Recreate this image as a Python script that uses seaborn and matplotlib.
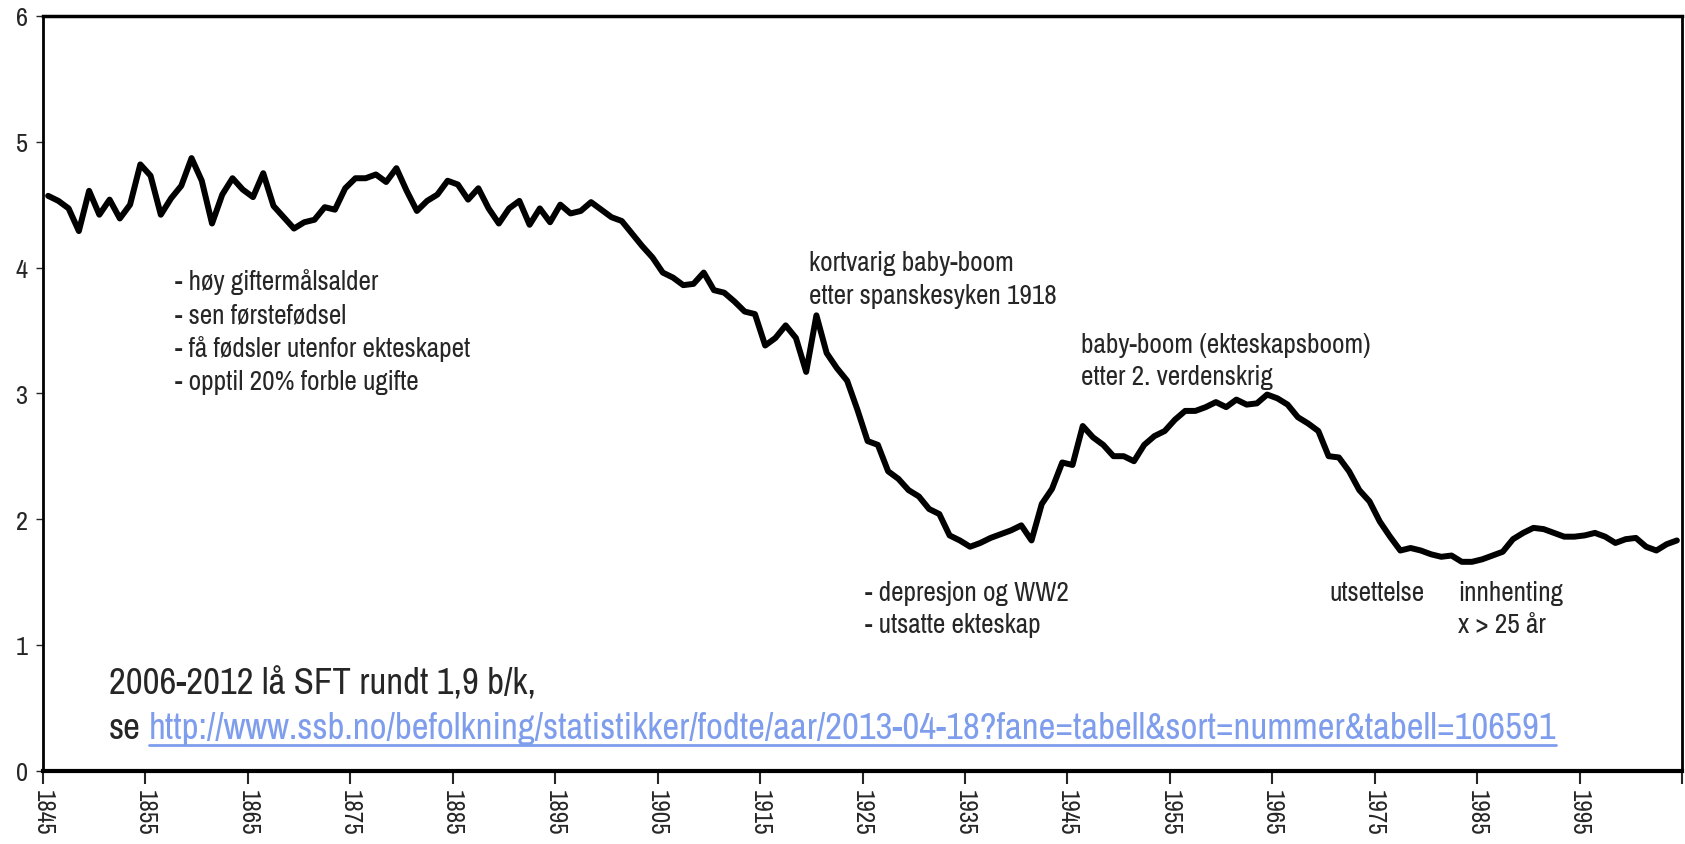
import matplotlib
matplotlib.use("Agg")
import matplotlib.pyplot as plt
import matplotlib.font_manager as fm
import seaborn as sns
import numpy as np
import pandas as pd
from matplotlib.lines import Line2D

# samlet fruktbarhetstall (SFT), Norge 1845-2004
years = list(range(1845, 2005))
sft = [
    4.57, 4.53, 4.47, 4.29, 4.61, 4.42, 4.54, 4.39, 4.50, 4.82,
    4.73, 4.42, 4.55, 4.65, 4.87, 4.69, 4.35, 4.58, 4.71, 4.62,
    4.56, 4.75, 4.49, 4.40, 4.31, 4.36, 4.38, 4.48, 4.46, 4.63,
    4.71, 4.71, 4.74, 4.68, 4.79, 4.61, 4.45, 4.53, 4.58, 4.69,
    4.66, 4.54, 4.63, 4.47, 4.35, 4.47, 4.53, 4.34, 4.47, 4.36,
    4.50, 4.43, 4.45, 4.52, 4.46, 4.40, 4.37, 4.27, 4.17, 4.08,
    3.96, 3.92, 3.86, 3.87, 3.96, 3.82, 3.80, 3.73, 3.65, 3.63,
    3.38, 3.44, 3.54, 3.44, 3.17, 3.62, 3.32, 3.20, 3.10, 2.87,
    2.62, 2.59, 2.38, 2.32, 2.23, 2.18, 2.08, 2.04, 1.87, 1.83,
    1.78, 1.81, 1.85, 1.88, 1.91, 1.95, 1.83, 2.12, 2.24, 2.45,
    2.43, 2.74, 2.65, 2.59, 2.50, 2.50, 2.46, 2.59, 2.66, 2.70,
    2.79, 2.86, 2.86, 2.89, 2.93, 2.89, 2.95, 2.91, 2.92, 2.99,
    2.96, 2.91, 2.81, 2.76, 2.70, 2.50, 2.49, 2.38, 2.23, 2.14,
    1.98, 1.86, 1.75, 1.77, 1.75, 1.72, 1.70, 1.71, 1.66, 1.66,
    1.68, 1.71, 1.74, 1.84, 1.89, 1.93, 1.92, 1.89, 1.86, 1.86,
    1.87, 1.89, 1.86, 1.81, 1.84, 1.85, 1.78, 1.75, 1.80, 1.83,
]
tick_years = list(range(1845, 2006, 10))
tick_labels = [str(y) for y in tick_years[:-1]] + [""]

notes_left = ["- høy giftermålsalder", "- sen førstefødsel",
              "- få fødsler utenfor ekteskapet", "- opptil 20% forble ugifte"]
note_spansk = ["kortvarig baby-boom", "etter spanskesyken 1918"]
note_boom = ["baby-boom (ekteskapsboom)", "etter 2. verdenskrig"]
note_depr = ["- depresjon og WW2", "- utsatte ekteskap"]
note_inn = ["innhenting", "x > 25 år"]
big_text = "2006-2012 lå SFT rundt 1,9 b/k,"
url = "http://www.ssb.no/befolkning/statistikker/fodte/aar/2013-04-18?fane=tabell&sort=nummer&tabell=106591"
link_color = "#7f9ded"

df = pd.DataFrame({"year": np.array(years) + 0.5, "sft": sft})

sns.set_style("white")

# look for a narrow font like Arial Narrow, otherwise take a plain sans
family, stretch = "Liberation Sans", "normal"
names = {f.name for f in fm.fontManager.ttflist}
narrow = [f for f in fm.fontManager.ttflist
          if ("narrow" in f.fname.lower() or "condensed" in f.fname.lower())
          and "bold" not in f.fname.lower() and "oblique" not in f.fname.lower()
          and "italic" not in f.fname.lower()]
if "Liberation Sans Narrow" in names:
    family = "Liberation Sans Narrow"
elif narrow:
    pick = sorted(narrow, key=lambda f: ("liberation" not in f.fname.lower(),
                                         "dejavu" in f.fname.lower()))[0]
    family, stretch = pick.name, pick.stretch
elif "Roboto" not in names:
    family = "DejaVu Sans"
plt.rcParams["font.family"] = [family, "DejaVu Sans"]
plt.rcParams["font.stretch"] = stretch

fig = plt.figure(figsize=(16.85, 8.45), dpi=100)
ax = fig.add_axes([43 / 1685, 73.4 / 845, 1639 / 1685, 754.6 / 845])

# scale text so widths follow the reference
probe = fig.text(0, 0, notes_left[0], fontsize=18)
probe2 = fig.text(0, 0, url, fontsize=24)
fig.canvas.draw()
fs = min(20, 18 * 204 / probe.get_window_extent().width)
fs_big = min(26.5, 24 * 1419 / probe2.get_window_extent().width)
probe.remove()
probe2.remove()

sns.lineplot(data=df, x="year", y="sft", ax=ax, color="black", linewidth=4.3)

ax.set_xlim(1845, 2005)
ax.set_ylim(0, 6)
ax.set_xlabel("")
ax.set_ylabel("")
ax.set_xticks(tick_years)
ax.set_xticklabels(tick_labels, rotation=270, fontsize=min(fs * 0.95, 18))
ax.set_yticks(range(0, 7))
ax.set_yticklabels([str(i) for i in range(0, 7)], fontsize=min(fs, 19))
ax.tick_params(axis="x", direction="out", length=9, width=1.5, pad=4, bottom=True)
ax.tick_params(axis="y", direction="out", length=5, width=1, pad=6, left=True)
for side, lw in [("left", 2), ("bottom", 3), ("top", 2.5), ("right", 2)]:
    ax.spines[side].set_visible(True)
    ax.spines[side].set_color("black")
    ax.spines[side].set_linewidth(lw)

for i, t in enumerate(notes_left):
    ax.text(1857.9, 3.89 - i * 0.265, t, fontsize=fs, va="center")
for i, t in enumerate(note_spansk):
    ax.text(1919.75, 4.04 - i * 0.265, t, fontsize=fs, va="center")
for i, t in enumerate(note_boom):
    ax.text(1946.3, 3.39 - i * 0.255, t, fontsize=fs, va="center")
for i, t in enumerate(note_depr):
    ax.text(1925.2, 1.42 - i * 0.255, t, fontsize=fs, va="center")
ax.text(1970.6, 1.42, "utsettelse", fontsize=fs, va="center")
for i, t in enumerate(note_inn):
    ax.text(1983.1, 1.42 - i * 0.255, t, fontsize=fs, va="center")

ax.text(1851.4, 0.70, big_text, fontsize=fs_big, va="center")
ax.text(1851.4, 0.34, "se", fontsize=fs_big, va="center")
link = ax.text(1855.3, 0.34, url, fontsize=fs_big, va="center", color=link_color)

fig.canvas.draw()
bb = link.get_window_extent()
fig.add_artist(Line2D([bb.x0 / 1685, bb.x1 / 1685],
                      [(bb.y0 - 1) / 845, (bb.y0 - 1) / 845],
                      color=link_color, linewidth=2))

fig.savefig("out.png", dpi=100)
